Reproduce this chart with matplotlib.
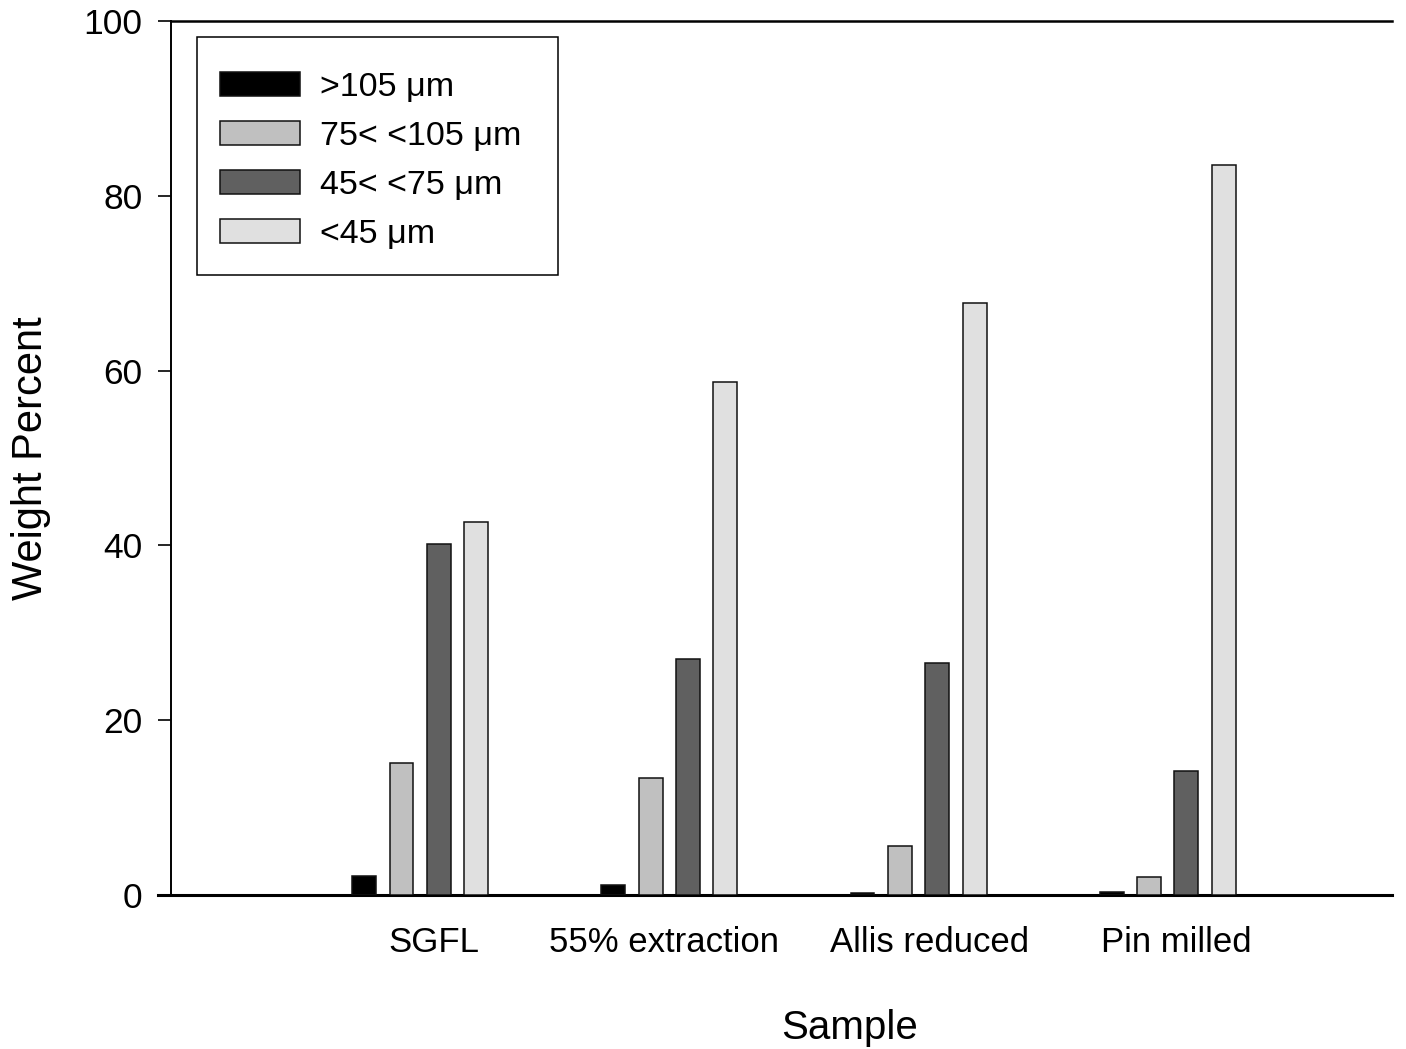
import numpy as np
import matplotlib
matplotlib.use("Agg")
from matplotlib import pyplot as plt
from matplotlib.patches import Rectangle

# sample groups and size fractions (weight percent)
samples = ["SGFL", "55% extraction", "Allis reduced", "Pin milled"]
fractions = [">105 \u03bcm", "75< <105 \u03bcm", "45< <75 \u03bcm", "<45 \u03bcm"]
over_105 = [2.2, 1.1, 0.2, 0.3]
from_75_to_105 = [15.1, 13.4, 5.6, 2.1]
from_45_to_75 = [40.2, 27.0, 26.5, 14.2]
under_45 = [42.7, 58.7, 67.7, 83.5]
yticks = [0, 20, 40, 60, 80, 100]

colors = ["#000000", "#c0c0c0", "#606060", "#e0e0e0"]

plt.rcParams["font.family"] = ["Liberation Sans", "DejaVu Sans"]

fig = plt.figure(figsize=(14.06, 10.49), dpi=100)
ax = fig.add_axes([171/1406, 1 - 895/1049, 1221/1406, 874/1049])

# draw grouped bars
pos = np.arange(1, len(samples) + 1)
step, width = 0.15, 0.096
series = [over_105, from_75_to_105, from_45_to_75, under_45]
for i, vals in enumerate(series):
    ax.bar(pos + (i - 1.5) * step, vals, width, color=colors[i],
           edgecolor="#111111", linewidth=1.1, label=fractions[i], zorder=3)

ax.set_xlim(0, 4.9)
ax.set_ylim(0, 100)
ax.set_yticks(yticks)
ax.tick_params(axis="y", direction="out", length=9.5, width=1.2, labelsize=25.5, pad=11)

# category labels sit a bit off the group centres, like the original
ax.set_xticks(pos + np.array([0.056, -0.02, 0.044, 0.036]))
ax.set_xticklabels(samples, fontsize=25)
ax.tick_params(axis="x", length=0, pad=22)

ax.spines["right"].set_visible(False)
ax.spines["top"].set_linewidth(1.8)
ax.spines["left"].set_linewidth(1.4)
ax.spines["bottom"].set_linewidth(2.2)
ax.spines["bottom"].set_bounds(-0.053, 4.9)
ax.spines["bottom"].set_clip_on(False)

ax.set_ylabel("Weight Percent", fontsize=30)
ax.yaxis.set_label_coords(-0.098, 0.5)
ax.set_xlabel("Sample", fontsize=29)
ax.xaxis.set_label_coords(0.556, -0.13)

# legend entries without frame, box drawn separately so the padding matches
leg = ax.legend(loc="upper left", bbox_to_anchor=(0.0401, 0.9421), borderaxespad=0,
                fontsize=24.5, frameon=False,
                handlelength=2.35, handleheight=0.72, handletextpad=0.59,
                labelspacing=0.53, borderpad=0)
ax.add_patch(Rectangle((0.0213, 0.7094), 0.2957, 0.2723, transform=ax.transAxes,
                       fill=False, edgecolor="black", linewidth=1.1, zorder=5))

fig.savefig("out.png", dpi=100)
